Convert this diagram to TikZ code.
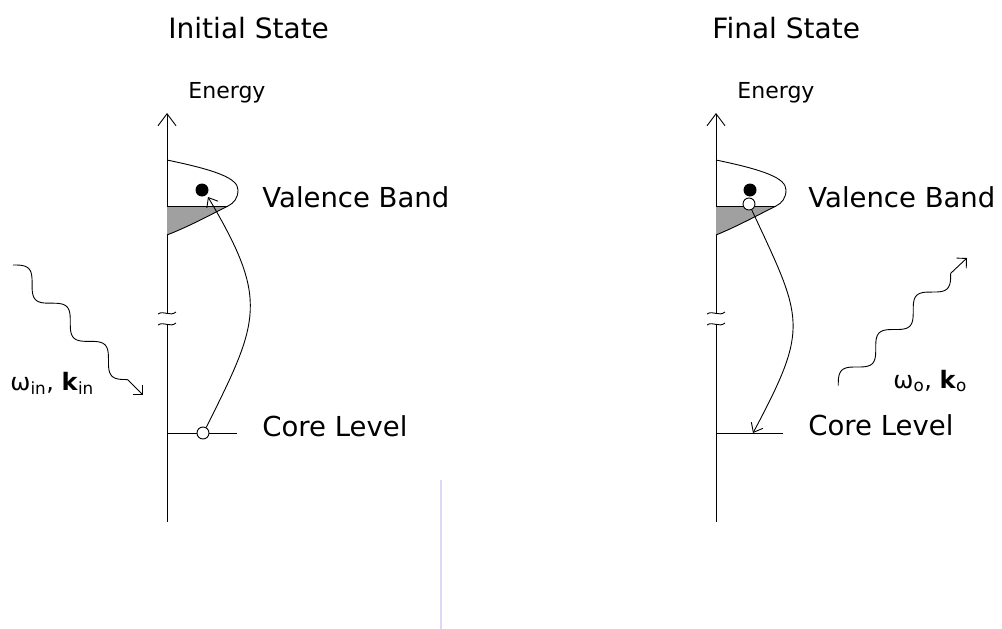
\documentclass[tikz,border=0pt]{standalone}
\usepackage{fontspec}
\setmainfont{DejaVu Sans}
\usetikzlibrary{arrows.meta}
\definecolor{bandgray}{RGB}{160,160,160}
\definecolor{lav}{RGB}{222,214,242}
\begin{document}
\begin{tikzpicture}[x=1pt,y=-1pt, line width=0.9pt,
  ttl/.style={anchor=base west, inner sep=0pt, font=\fontsize{28}{32}\selectfont},
  lbl/.style={anchor=base west, inner sep=0pt, font=\fontsize{27.5}{31}\selectfont},
  en/.style={anchor=base west, inner sep=0pt, font=\fontsize{22}{26}\selectfont},
  plbl/.style={anchor=base west, inner sep=0pt, font=\fontsize{24}{28}\selectfont},
  axisarrow/.style={-{Straight Barb[length=12pt,width=18pt]}},
  tarrow/.style={-{Straight Barb[length=8pt,width=13pt]}},
  parrow/.style={-{Straight Barb[length=7pt,width=14pt]}},
  dot/.style={circle, fill=black, inner sep=0pt, minimum size=13pt},
  holec/.style={circle, draw=black, fill=white, inner sep=0pt, minimum size=12pt},
  band/.style={fill=bandgray},
]
\useasboundingbox (0,0) rectangle (1002,629);

% titles and labels
\node[ttl] (tL) at (168,38) {Initial State};
\node[ttl] (tR) at (712,38) {Final State};
\node[en] (eL) at (188,98) {Energy};
\node[en] (eR) at (737,98) {Energy};
\node[lbl] (vL) at (262,207) {Valence Band};
\node[lbl] (vR) at (808,207) {Valence Band};
\node[lbl] (cL) at (262,436) {Core Level};
\node[lbl] (cR) at (808,435) {Core Level};
\node[plbl] (wL) at (10,390) {ω\textsubscript{in}, \textbf{k}\textsubscript{in}};
\node[plbl] (wR) at (893,388) {ω\textsubscript{o}, \textbf{k}\textsubscript{o}};

% ---------------- left panel ----------------
\coordinate (aL0) at (167,522);
\coordinate (aL1) at (167,325);
\coordinate (aL2) at (167,313);
\coordinate (aL3) at (167,113);
\draw (aL0) -- (aL1);
\draw[axisarrow] (aL2) -- (aL3);
\draw (158,314) .. controls (164,310) and (170,317) .. (176,312);
\draw (158,325) .. controls (164,321) and (170,328) .. (176,323);

\fill[band] (167,206) -- (228,206) .. controls (210,215) and (190,226) .. (167,235) -- cycle;
\draw (167,160) .. controls (215,170) and (238,178) .. (238,190)
  .. controls (238,198) and (234,203) .. (228,206)
  .. controls (210,215) and (190,226) .. (167,235);
\draw (167,206) -- (228,206);
\node[dot] (dL) at (202,190) {};

\coordinate (clL0) at (167,433);
\coordinate (clL1) at (237,433);
\draw (clL0) -- (clL1);
\node[holec] (hL) at (203,433) {};
\coordinate (tipL) at (208,197);
\draw[tarrow] (hL.60) .. controls (260,320) and (269,300) .. (tipL);

% incoming photon
\coordinate (pL1) at (127.55,379.55);
\coordinate (pLt) at (143,395);
\draw plot[domain=0:162, samples=220]
  ({13+(\x+8.594*sin(6.6667*\x))/1.41421},{265+(\x-8.594*sin(6.6667*\x))/1.41421});
\draw[parrow] (pL1) -- (pLt);

% ---------------- right panel ----------------
\coordinate (aR0) at (716,522);
\coordinate (aR1) at (716,325);
\coordinate (aR2) at (716,313);
\coordinate (aR3) at (716,113);
\draw (aR0) -- (aR1);
\draw[axisarrow] (aR2) -- (aR3);
\draw (707,314) .. controls (713,310) and (719,317) .. (725,312);
\draw (707,325) .. controls (713,321) and (719,328) .. (725,323);

\fill[band] (716,206) -- (776,206) .. controls (758,215) and (738,226) .. (716,235) -- cycle;
\draw (716,160) .. controls (764,170) and (786,178) .. (786,190)
  .. controls (786,198) and (782,203) .. (776,206)
  .. controls (758,215) and (738,226) .. (716,235);
\draw (716,206) -- (776,206);
\node[dot] (dR) at (750,190) {};
\node[holec] (hR) at (749,204) {};

\coordinate (clR0) at (716,433);
\coordinate (clR1) at (783,433);
\draw (clR0) -- (clR1);
\coordinate (tipR) at (753,433);
\draw[tarrow] (hR.-65) .. controls (803,320) and (810,326) .. (tipR);

% outgoing photon
\coordinate (pR1) at (950.7,273.3);
\coordinate (pRt) at (967,258);
\draw plot[domain=-26.5:132.5, samples=220]
  ({857+(\x+8.435*sin(6.7925*\x))/1.41421},{367-(\x-8.435*sin(6.7925*\x))/1.41421});
\draw[parrow] (pR1) -- (pRt);

% faint divider
\coordinate (dv0) at (441,480);
\coordinate (dv1) at (441,629);
\draw[lav, line width=1.3pt] (dv0) -- (dv1);
\end{tikzpicture}
\end{document}
